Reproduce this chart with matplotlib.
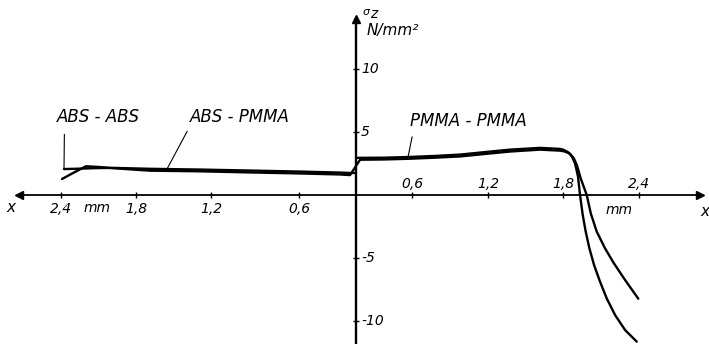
import numpy as np
import matplotlib
matplotlib.use("Agg")
import matplotlib.pyplot as plt

# Axial stress sigma_z (N/mm^2) along the distance x (mm) from the weld plane.
# Negative x: ABS side, positive x: PMMA side.
abs_abs_x = [-2.376, -2.29, -2.09, -1.97, -1.69, -1.29, -0.93, -0.59, -0.17, -0.06, 0.0]
abs_abs_s = [2.06, 2.08, 2.14, 2.15, 2.08, 2.02, 1.94, 1.86, 1.78, 1.75, 1.75]

abs_pmma_x = [-2.392, -2.288, -2.2, -2.09, -1.97, -1.69, -1.29, -0.93, -0.59, -0.17,
              -0.063, 0.043, 0.3, 0.58, 0.78, 0.98, 1.22, 1.376, 1.616, 1.776, 1.81,
              1.855, 1.886, 1.91, 1.94, 1.987, 2.019, 2.066, 2.132, 2.197, 2.29, 2.394]
abs_pmma_s = [1.27, 1.83, 2.28, 2.22, 2.12, 1.93, 1.88, 1.79, 1.71, 1.63,
              1.58, 2.8, 2.82, 2.88, 2.96, 3.06, 3.3, 3.45, 3.6, 3.52, 3.46,
              3.28, 2.9, 2.35, 1.3, 0.0, -1.46, -2.91, -4.24, -5.35, -6.75, -8.23]

pmma_pmma_x = [0.0, 0.3, 0.58, 0.78, 0.98, 1.22, 1.376, 1.616, 1.776, 1.8, 1.84, 1.87,
               1.895, 1.918, 1.934, 1.9555, 1.979, 2.008, 2.045, 2.092, 2.145, 2.211,
               2.29, 2.382]
pmma_pmma_s = [2.95, 2.96, 3.02, 3.1, 3.21, 3.45, 3.6, 3.74, 3.66, 3.6, 3.4, 3.05,
               2.5, 1.47, 0.0, -1.59, -2.91, -4.23, -5.56, -6.88, -8.21, -9.53,
               -10.72, -11.64]

x_ticks = [-2.4, -1.8, -1.2, -0.6, 0.6, 1.2, 1.8, 2.4]
y_ticks = [-10, -5, 5, 10]

# The drawn x axis is hand-spaced: the first 0,6 step is shorter than the others.
MM_KNOTS = [-3.2, -2.4, -1.8, -1.2, -0.6, 0.0, 0.6, 1.2, 1.8, 2.4, 3.2]
DRAWN = [-395, -295, -220, -145, -57, 0, 56, 132, 207, 283, 384]


def forward(x):
    return np.interp(x, MM_KNOTS, DRAWN)


def inverse(u):
    return np.interp(u, DRAWN, MM_KNOTS)


W, H = 709, 344
fig = plt.figure(figsize=(W / 100, H / 100), dpi=100)
ax = fig.add_axes([0, 0, 1, 1])
ax.set_xscale("function", functions=(forward, inverse))
ax.set_xlim(-2.888, 2.954)
ax.set_ylim(-11.825, 15.476)
ax.patch.set_alpha(0)

FONT = dict(family="DejaVu Sans", style="italic", color="black")


def fx(px):
    return px / W


def fy(py):
    return 1 - py / H


# axes through the origin
for side in ("top", "right"):
    ax.spines[side].set_visible(False)
ax.spines["bottom"].set_position(("data", 0))
ax.spines["left"].set_position(("data", 0))
ax.spines["bottom"].set_bounds(-2.74, 2.88)
ax.spines["left"].set_bounds(-11.825, 14.0)
ax.spines["bottom"].set_linewidth(1.3)
ax.spines["left"].set_linewidth(1.7)

ax.set_xticks(x_ticks)
ax.set_yticks(y_ticks)
ax.minorticks_off()
ax.tick_params(axis="x", direction="inout", length=5, width=1.0,
               labelbottom=False)
ax.tick_params(axis="y", direction="inout", length=5, width=1.0,
               labelleft=False)

ax.plot([-2.74], [0], marker="<", ms=6, color="black", clip_on=False)
ax.plot([2.88], [0], marker=">", ms=6, color="black", clip_on=False)
ax.plot([0], [14.0], marker="^", ms=6, color="black", clip_on=False)

# curves
line_kw = dict(color="black", lw=1.7, solid_capstyle="round", solid_joinstyle="round")
ax.plot(abs_abs_x, abs_abs_s, **line_kw)
ax.plot(abs_pmma_x, abs_pmma_s, **line_kw)
ax.plot(pmma_pmma_x, pmma_pmma_s, **line_kw)

# tick labels
for v in x_ticks:
    lab = f"{abs(v):.1f}".replace(".", ",")
    dy = -14 if v < 0 else 11
    ax.annotate(lab, xy=(v, 0), xytext=(0, dy), textcoords="offset pixels",
                ha="center", va="center", fontsize=10, **FONT)
for v in y_ticks:
    lab = f"{v:d}"
    ax.annotate(lab, xy=(0, v), xytext=(5, 0), textcoords="offset pixels",
                ha="left", va="center", fontsize=10, **FONT)

# axis titles
ax.text(fx(11), fy(208), "x", transform=ax.transAxes, ha="center", va="center",
        fontsize=11, **FONT)
ax.text(fx(705), fy(211), "x", transform=ax.transAxes, ha="center", va="center",
        fontsize=11, **FONT)
ax.text(fx(97), fy(208), "mm", transform=ax.transAxes, ha="center", va="center",
        fontsize=10, **FONT)
ax.text(fx(619), fy(210), "mm", transform=ax.transAxes, ha="center", va="center",
        fontsize=10, **FONT)
ax.text(fx(366), fy(12), "σ", transform=ax.transAxes, ha="center", va="center",
        fontsize=8, **FONT)
ax.text(fx(374), fy(14), "z", transform=ax.transAxes, ha="center", va="center",
        fontsize=10, **FONT)
ax.text(fx(367), fy(31), "N/mm²", transform=ax.transAxes, ha="left", va="center",
        fontsize=11, **FONT)

# curve labels with leader lines
leader = dict(arrowstyle="-", lw=0.8, color="black", shrinkB=0)

ax.annotate("ABS - ABS", xy=(abs_abs_x[0], abs_abs_s[0]),
            xytext=(fx(57), fy(117)), textcoords="axes fraction",
            ha="left", va="center", fontsize=12,
            arrowprops=dict(leader, relpos=(0.09, 0), shrinkA=4), **FONT)

x_ap = -1.56
ax.annotate("ABS - PMMA", xy=(x_ap, np.interp(x_ap, abs_pmma_x, abs_pmma_s)),
            xytext=(fx(190), fy(117)), textcoords="axes fraction",
            ha="left", va="center", fontsize=12,
            arrowprops=dict(leader, relpos=(0.0, 0), shrinkA=2), **FONT)

x_pp = 0.557
ax.annotate("PMMA - PMMA", xy=(x_pp, np.interp(x_pp, pmma_pmma_x, pmma_pmma_s)),
            xytext=(fx(410), fy(121)), textcoords="axes fraction",
            ha="left", va="center", fontsize=12,
            arrowprops=dict(leader, relpos=(0.03, 0), shrinkA=3), **FONT)

fig.savefig("out.png", dpi=100, facecolor="white")
